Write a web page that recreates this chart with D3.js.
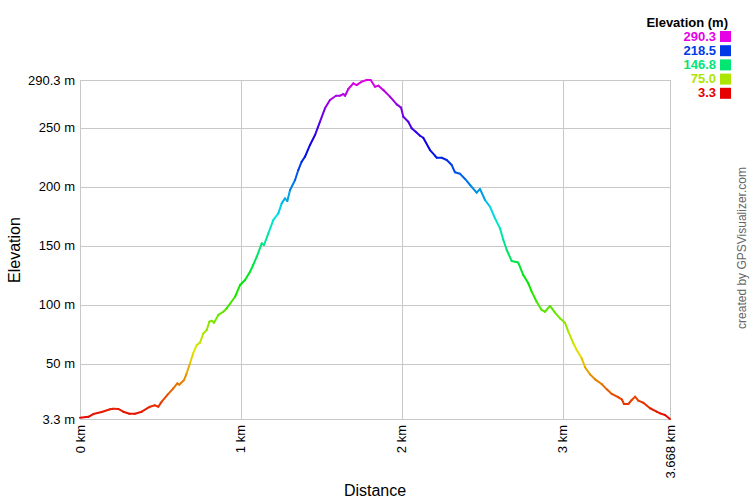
<!DOCTYPE html>
<html><head><meta charset="utf-8">
<script src="https://cdn.jsdelivr.net/npm/d3@7"></script>
<style>body{margin:0;background:#fff}svg{display:block}text{font-family:"Liberation Sans",Arial,sans-serif}</style>
</head><body>
<svg id="c" width="750" height="500"></svg>
<script>
const distanceKm = [0.000,0.052,0.083,0.135,0.187,0.207,0.238,0.269,0.307,0.342,0.384,0.435,0.466,0.487,0.508,0.549,0.580,0.605,0.617,0.647,0.663,0.684,0.704,0.726,0.746,0.767,0.788,0.804,0.819,0.833,0.860,0.891,0.912,0.964,0.995,1.026,1.057,1.077,1.099,1.130,1.144,1.171,1.202,1.233,1.254,1.274,1.289,1.306,1.337,1.357,1.378,1.399,1.430,1.461,1.492,1.523,1.554,1.592,1.616,1.637,1.648,1.668,1.699,1.720,1.751,1.782,1.807,1.834,1.855,1.886,1.927,1.969,1.996,2.010,2.041,2.062,2.087,2.114,2.134,2.176,2.207,2.218,2.249,2.280,2.311,2.331,2.362,2.394,2.425,2.466,2.487,2.518,2.549,2.580,2.611,2.632,2.653,2.684,2.704,2.721,2.729,2.756,2.787,2.808,2.839,2.870,2.891,2.922,2.953,2.984,3.015,3.036,3.067,3.088,3.119,3.140,3.171,3.202,3.243,3.275,3.306,3.347,3.368,3.382,3.409,3.430,3.451,3.471,3.502,3.544,3.585,3.606,3.637,3.668];
const elevationM = [4.4,5.2,7.5,9.2,11.5,12.0,11.8,9.5,7.8,7.8,9.5,13.7,14.9,13.7,18.0,24.5,29.3,33.5,32.3,36.3,42.0,50.5,59.0,66.0,68.0,75.8,78.6,85.7,86.5,84.8,91.4,94.1,97.0,106.8,116.7,121.0,128.0,133.7,140.7,152.0,150.6,160.5,171.8,177.4,185.9,190.1,187.9,197.2,205.6,214.1,221.1,225.4,235.3,243.7,255.0,266.3,273.4,277.0,277.0,278.4,277.0,282.7,287.5,286.0,288.9,290.3,290.3,284.6,285.5,281.8,276.2,269.7,266.9,259.2,255.0,249.4,246.5,243.1,241.4,231.0,226.2,224.5,224.5,222.6,218.3,212.2,211.0,206.5,201.4,194.9,198.0,188.7,183.0,173.2,164.7,154.8,146.4,137.0,136.5,136.0,134.3,125.2,118.2,111.1,102.6,95.6,94.1,99.0,93.3,88.5,84.8,77.2,67.4,61.7,54.7,47.1,41.1,36.9,32.9,28.4,24.5,21.7,20.0,16.0,16.0,19.4,22.2,18.8,17.1,12.4,9.5,8.1,6.7,3.3];
const yTickValues = [3.3,50,100,150,200,250,290.3];
const yTickLabels = ["3.3 m","50 m","100 m","150 m","200 m","250 m","290.3 m"];
const xTickValues = [0,1,2,3,3.668];
const xTickLabels = ["0 km","1 km","2 km","3 km","3.668 km"];
const legendValues = [290.3,218.5,146.8,75.0,3.3];
const legendLabels = ["290.3","218.5","146.8","75.0","3.3"];

const svg = d3.select("#c");
const L=80,R=670,T=80,B=419;
const x = d3.scaleLinear().domain([0,3.668]).range([L,R]);
const y = d3.scaleLinear().domain([3.3,290.3]).range([B,T]);
const hue = d3.scaleLinear().domain([3.3,290.3]).range([0,300]);
const col = v => d3.hsl(hue(v),1,0.45).formatHex();

// grid
const g = svg.append("g");
g.selectAll("line.h").data(yTickValues).join("line")
 .attr("x1",L).attr("x2",R).attr("y1",d=>Math.round(y(d))+0.5).attr("y2",d=>Math.round(y(d))+0.5)
 .attr("stroke","#c8c8c8").attr("stroke-width",1);
g.selectAll("line.v").data(xTickValues).join("line")
 .attr("y1",T).attr("y2",B+0.5).attr("x1",d=>Math.round(x(d))+0.5).attr("x2",d=>Math.round(x(d))+0.5)
 .attr("stroke","#c8c8c8").attr("stroke-width",1);

// y labels
svg.selectAll("text.yl").data(yTickValues).join("text")
 .attr("x",L-5).attr("y",d=>y(d)).attr("dy","0.35em").attr("text-anchor","end")
 .attr("font-size",13).attr("fill","#000").text((d,i)=>yTickLabels[i]);
// x labels
svg.selectAll("text.xl").data(xTickValues).join("text")
 .attr("transform",d=>`translate(${x(d)},${B+6}) rotate(-90)`).attr("dy","0.35em").attr("text-anchor","end")
 .attr("font-size",13).attr("fill","#000").text((d,i)=>xTickLabels[i]);

// titles
svg.append("text").attr("transform","translate(20,250) rotate(-90)").attr("text-anchor","middle")
 .attr("font-size",16).text("Elevation");
svg.append("text").attr("x",375).attr("y",496).attr("text-anchor","middle")
 .attr("font-size",16).text("Distance");
svg.append("text").attr("transform","translate(746,248) rotate(-90)").attr("text-anchor","middle")
 .attr("font-size",12).attr("fill","#666").text("created by GPSVisualizer.com");

// profile
const pts = distanceKm.map((d,i)=>[d,elevationM[i]]);
const segs = d3.pairs(pts);
svg.append("g").selectAll("line").data(segs).join("line")
 .attr("x1",d=>x(d[0][0])).attr("y1",d=>y(d[0][1]))
 .attr("x2",d=>x(d[1][0])).attr("y2",d=>y(d[1][1]))
 .attr("stroke",d=>col((d[0][1]+d[1][1])/2)).attr("stroke-width",2).attr("stroke-linecap","round");

// legend
svg.append("text").attr("x",728).attr("y",27).attr("text-anchor","end")
 .attr("font-size",13).attr("font-weight","bold").text("Elevation (m)");
const lg = svg.append("g").selectAll("g").data(legendValues).join("g")
 .attr("transform",(d,i)=>`translate(0,${36+i*14.2})`);
lg.append("text").attr("x",716).attr("dy","0.36em").attr("text-anchor","end")
 .attr("font-size",13).attr("font-weight","bold").attr("fill",d=>col(d)).text((d,i)=>legendLabels[i]);
lg.append("rect").attr("x",720).attr("y",-5).attr("width",11).attr("height",11).attr("fill",d=>col(d));
</script>
</body></html>
